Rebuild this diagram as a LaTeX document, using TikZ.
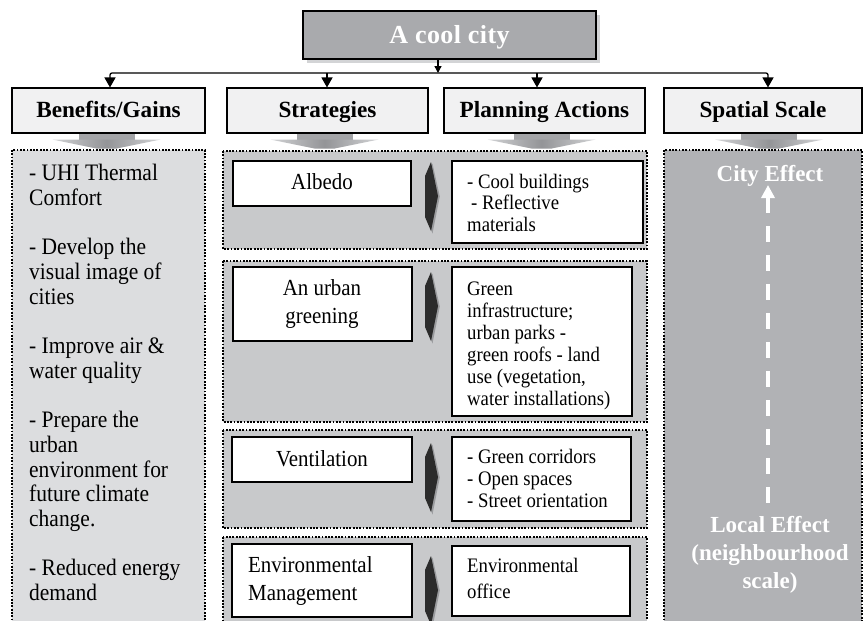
\documentclass[tikz,border=0pt]{standalone}
\usepackage{fontspec}
\setmainfont{Liberation Serif}
\newfontfamily\condrm{Liberation Serif}[FakeStretch=0.91]
\newfontfamily\ttlrm{Liberation Serif}[LetterSpace=1.5]
\usetikzlibrary{arrows.meta,calc,shadows}

\definecolor{benfill}{HTML}{DCDDDF}
\definecolor{grpfill}{HTML}{C8C9CB}
\definecolor{spafill}{HTML}{B1B2B5}
\definecolor{ttlfill}{HTML}{A9AAAD}
\definecolor{ttlshadow}{HTML}{D3D4D6}
\definecolor{hdrfill}{HTML}{F1F1F2}
\definecolor{chev}{HTML}{2B2B2B}
\definecolor{chevshade}{HTML}{9A9B9E}
\definecolor{barrowdark}{HTML}{939497}
\definecolor{barrowlight}{HTML}{D2D3D5}

% strut that fixes the height of a first line
\newcommand\firststrut{\rule{0pt}{0.78em}}

\begin{document}
\begin{tikzpicture}[x=1pt,y=-1pt,
  conn/.style={line width=1.3pt, draw=black},
  tipbig/.style={-{Triangle[width=11pt,length=10pt]}},
  dotbox/.style={draw=black, line width=1.8pt, dash pattern=on 1.8pt off 1.5pt},
  hdr/.style={draw=black, line width=1.1pt, fill=hdrfill, inner sep=0pt,
    minimum height=45pt, text height=17pt, text depth=4pt,
    font=\bfseries\fontsize{23.2}{27}\selectfont},
  wbox/.style={draw=black, line width=1.1pt, fill=white, inner sep=0pt},
  stxt/.style={inner sep=0pt, font=\condrm\fontsize{23}{28}\selectfont},
  ptxt/.style={inner sep=0pt, anchor=north west, align=left,
    font=\condrm\fontsize{20.6}{22}\selectfont},
  wtxt/.style={inner sep=0pt, text=white, font=\bfseries\fontsize{23}{28}\selectfont}
]
\path[use as bounding box] (0,0) rectangle (868,621);
\clip (0,0) rectangle (868,621);
\fill[white] (0,0) rectangle (868,621);

% ---------- title ----------
\node[draw=black, line width=1.1pt, fill=ttlfill, minimum width=293pt,
  minimum height=48pt, inner sep=0pt, text height=21pt, text depth=4pt,
  text=white, font=\ttlrm\bfseries\fontsize{26}{30}\selectfont,
  drop shadow={shadow xshift=4pt, shadow yshift=-4pt, fill=ttlshadow, opacity=1}]
  (title) at (449.5,35) {A cool city};

% ---------- column headers ----------
\node[hdr, minimum width=193pt] (ben) at (108.5,110.5) {Benefits/Gains};
\node[hdr, minimum width=201pt] (str) at (327.5,110.5) {Strategies};
\node[hdr, minimum width=201pt] (pla) at (544.5,110.5) {Planning Actions};
\node[hdr, minimum width=198pt] (spa) at (763,110.5) {Spatial Scale};

% ---------- distribution line ----------
\coordinate (tap) at (438,73);
\coordinate (bw) at (110,73);
\coordinate (b2) at (327,73);
\coordinate (b3) at (537,73);
\coordinate (be) at (768,73);
\draw[conn, -{Triangle[width=7pt,length=7pt]}] (title.south -| tap) -- (tap);
\draw[conn, rounded corners=2pt, {Triangle[width=11pt,length=10pt]}-{Triangle[width=11pt,length=10pt]}]
  (bw |- ben.north) -- (bw) -- (be) -- (be |- spa.north);
\draw[conn, tipbig] (b2) -- (b2 |- str.north);
\draw[conn, tipbig] (b3) -- (b3 |- pla.north);

% ---------- wide grey arrows under the headers ----------
\foreach \h/\dx in {ben/-2,str/-3,pla/-3,spa/6} {
  \path (\h.south) ++(\dx,0) coordinate (c);
  \fill[barrowdark!85!white] ($(c)+(-28,0.6)$) rectangle ($(c)+(28,6)$);
  \shade[left color=barrowlight, right color=barrowlight, middle color=barrowdark]
    ($(c)+(-54,6)$) -- ($(c)+(54,6)$) -- ($(c)+(10,15)$) -- ($(c)+(-10,15)$) -- cycle;
}

% ---------- containers ----------
\draw[dotbox, fill=benfill] (12,150) rectangle (205,640);
\draw[dotbox, fill=spafill] (664,150) rectangle (862,640);
\draw[dotbox, fill=grpfill] (223,151) rectangle (647,249);
\draw[dotbox, fill=grpfill] (223,261) rectangle (647,422);
\draw[dotbox, fill=grpfill] (223,430) rectangle (647,528);
\draw[dotbox, fill=grpfill] (223,537) rectangle (647,640);

% ---------- benefits list ----------
\node[anchor=north west, inner sep=0pt, align=left,
  font=\condrm\fontsize{23.6}{24.7}\selectfont] (gains) at (29,162)
  {\firststrut- UHI Thermal\\Comfort\\[24.7pt]- Develop the\\visual image of\\cities\\[24.7pt]%
   - Improve air \&\\water quality\\[24.7pt]- Prepare the\\urban\\environment for\\%
   future climate\\change.\\[24.7pt]- Reduced energy\\demand};

% ---------- strategy boxes ----------
\node[wbox, minimum width=178pt, minimum height=45pt] (s1) at (322,183.5) {};
\node[wbox, minimum width=179pt, minimum height=74pt] (s2) at (322.5,304) {};
\node[wbox, minimum width=180pt, minimum height=45pt] (s3) at (322,459.5) {};
\node[wbox, minimum width=180pt, minimum height=73pt] (s4) at (322,580.5) {};

\node[stxt, anchor=base] (s1t) at (322,189.5) {Albedo};
\node[stxt, anchor=north, align=center] (s2t) at (322,277.1) {\firststrut An urban\\greening};
\node[stxt, anchor=base] (s3t) at (322,466) {Ventilation};
\node[stxt, anchor=north west, align=left] (s4t) at (248,554.1) {\firststrut Environmental\\Management};

% ---------- planning action boxes ----------
\node[wbox, minimum width=191pt, minimum height=82pt] (p1) at (547.5,202) {};
\node[wbox, minimum width=180pt, minimum height=149pt] (p2) at (542,341.5) {};
\node[wbox, minimum width=179pt, minimum height=84pt] (p3) at (541.5,479) {};
\node[wbox, minimum width=178pt, minimum height=70pt] (p4) at (541,581) {};

\node[ptxt, font=\condrm\fontsize{20.6}{21.7}\selectfont] (p1t) at (467,172)
  {\firststrut- Cool buildings\\\hspace{4pt}- Reflective\\materials};
\node[ptxt] (p2t) at (467,278.9)
  {\firststrut Green\\infrastructure;\\urban parks -\\green roofs - land\\use (vegetation,\\water installations)};
\node[ptxt] (p3t) at (467,447.5)
  {\firststrut- Green corridors\\- Open spaces\\- Street orientation};
\node[ptxt, font=\condrm\fontsize{20.6}{26}\selectfont] (p4t) at (467,555.9)
  {\firststrut Environmental\\office};

% ---------- link arrows strategy -> action ----------
\foreach \t in {162,272,443,556} {
  \fill[chevshade] (426.5,\t+14.5) -- (432.5,\t+1.5) -- (439.8,\t+34.5) -- (432.5,\t+71.5) -- (426.5,\t+56.5) -- cycle;
  \fill[chev] (425,\t+14) -- (431,\t) -- (438,\t+34) -- (431,\t+69) -- (425,\t+55) -- cycle;
}

% ---------- spatial scale ----------
\node[wtxt, anchor=base] (city) at (770,181.5) {City Effect};
\node[wtxt, anchor=north, align=center] (local) at (770,514.1)
  {\firststrut Local Effect\\(neighbourhood\\scale)};
\coordinate (cityTip) at (768,185);
\coordinate (localEnd) at (768,504);
\draw[white, line width=4.5pt, dash pattern=on 16pt off 13pt,
  {Triangle[width=13pt,length=13pt]}-] (cityTip) -- (localEnd);

\end{tikzpicture}
\end{document}
